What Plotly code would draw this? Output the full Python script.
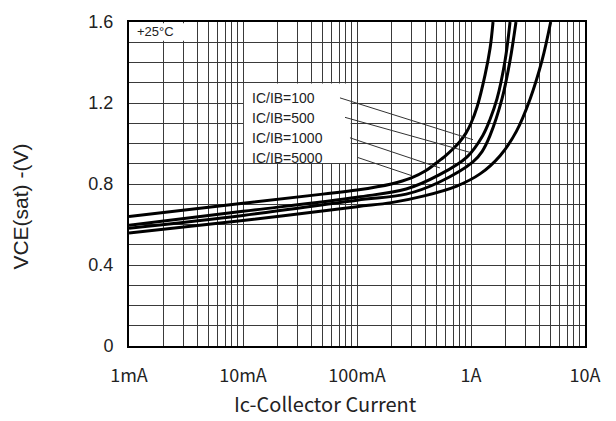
import plotly.graph_objects as go

# ---- data ----
i_5000 = [0.001, 0.01, 0.05, 0.1, 0.2, 0.3, 0.4, 0.5, 0.6, 0.7, 0.8, 0.9, 1.0, 1.13, 1.33, 1.47, 1.56]
v_5000 = [0.64, 0.705, 0.75, 0.77, 0.80, 0.83, 0.865, 0.905, 0.94, 0.975, 1.01, 1.05, 1.10, 1.18, 1.34, 1.47, 1.6]

i_1000 = [0.001, 0.01, 0.1, 0.27, 0.53, 0.92, 1.27, 1.47, 1.69, 1.99, 2.2]
v_1000 = [0.596, 0.665, 0.735, 0.775, 0.846, 0.933, 1.04, 1.12, 1.22, 1.41, 1.6]

i_500 = [0.001, 0.01, 0.1, 0.27, 0.53, 1.04, 1.25, 1.47, 1.87, 2.2, 2.48]
v_500 = [0.582, 0.645, 0.72, 0.75, 0.81, 0.909, 0.96, 1.04, 1.22, 1.41, 1.6]

i_100 = [0.001, 0.01, 0.1, 0.2, 0.38, 0.75, 1.2, 1.8, 2.5, 3.3, 4.2, 5.0]
v_100 = [0.558, 0.62, 0.688, 0.708, 0.74, 0.79, 0.85, 0.94, 1.06, 1.22, 1.41, 1.6]

x_tick_vals = [0.001, 0.01, 0.1, 1, 10]
x_tick_text = ["1mA", "10mA", "100mA", "1A", "10A"]
y_tick_vals = [0, 0.4, 0.8, 1.2, 1.6]
y_tick_text = ["0", "0.4", "0.8", "1.2", "1.6"]
legend_labels = ["IC/IB=100", "IC/IB=500", "IC/IB=1000", "IC/IB=5000"]
temp_label = "+25°C"

fig = go.Figure()
for xs, ys in [(i_5000, v_5000), (i_1000, v_1000), (i_500, v_500), (i_100, v_100)]:
    fig.add_trace(go.Scatter(x=xs, y=ys, mode="lines",
                             line=dict(color="black", width=3, shape="spline", smoothing=1.0),
                             showlegend=False, hoverinfo="skip"))

# grid positions
x_grid = [m * 10 ** e for e in range(-3, 1) for m in range(1, 10)] + [10]
x_grid_text = [x_tick_text[x_tick_vals.index(v)] if v in x_tick_vals else "" for v in
               [round(g, 6) for g in x_grid]]
y_grid = [round(k * 0.1, 1) for k in range(0, 17)]
y_grid_text = [y_tick_text[y_tick_vals.index(v)] if v in y_tick_vals else "" for v in y_grid]

fig.update_xaxes(type="log", range=[-3, 1], tickmode="array", tickvals=x_grid, ticktext=x_grid_text,
                 showgrid=True, gridcolor="#3a3a3a", gridwidth=1, zeroline=False,
                 showline=True, linecolor="black", linewidth=2, mirror=True,
                 ticks="", ticklabelstandoff=12,
                 tickfont=dict(family="Noto Sans CJK SC", size=18, color="#222"))
fig.update_yaxes(range=[0, 1.6], tickmode="array", tickvals=y_grid, ticktext=y_grid_text,
                 showgrid=True, gridcolor="#3a3a3a", gridwidth=1, zeroline=False,
                 showline=True, linecolor="black", linewidth=2, mirror=True,
                 ticks="", ticklabelstandoff=10,
                 tickfont=dict(family="Liberation Sans", size=18, color="#222"))

# white boxes (cover the grid)
fig.add_shape(type="rect", xref="paper", yref="paper", x0=0.004, x1=0.147, y0=0.942, y1=0.996,
              fillcolor="white", line=dict(width=0), layer="above")
fig.add_shape(type="rect", xref="paper", yref="paper", x0=0.252, x1=0.486, y0=0.565, y1=0.810,
              fillcolor="white", line=dict(width=0), layer="above")

# leader lines
leaders = [((0.4627, 0.7658), (0.7544, 0.6366)),
           ((0.4737, 0.7057), (0.7478, 0.5976)),
           ((0.4846, 0.6426), (0.6820, 0.5495)),
           ((0.5000, 0.5826), (0.6206, 0.5255))]
for (a, b) in leaders:
    fig.add_shape(type="line", xref="paper", yref="paper", x0=a[0], y0=a[1], x1=b[0], y1=b[1],
                  line=dict(color="#333", width=1), layer="above")

fig.add_annotation(text=temp_label, xref="paper", yref="paper", x=0.013, y=0.97,
                   xanchor="left", yanchor="middle", showarrow=False,
                   font=dict(family="Liberation Sans", size=13, color="#222"))
for k, lab in enumerate(legend_labels):
    fig.add_annotation(text=lab, xref="paper", yref="paper", x=0.266, y=0.766 - k * 0.0615,
                       xanchor="left", yanchor="middle", showarrow=False,
                       font=dict(family="Liberation Sans", size=14, color="#222"))

fig.add_annotation(text="Ic-Collector Current", xref="paper", yref="paper", x=0.43, y=-0.177,
                   xanchor="center", yanchor="middle", showarrow=False,
                   font=dict(family="Noto Sans CJK SC", size=20, color="#222"))
fig.add_annotation(text="VCE(sat) -(V)", xref="paper", yref="paper", x=-0.237, y=0.43,
                   xanchor="center", yanchor="middle", showarrow=False, textangle=-90,
                   font=dict(family="Liberation Sans", size=21, color="#222"))

fig.update_layout(width=616, height=421, margin=dict(l=129, r=31, t=13, b=75),
                  paper_bgcolor="white", plot_bgcolor="white")
fig.write_html("out.html")
